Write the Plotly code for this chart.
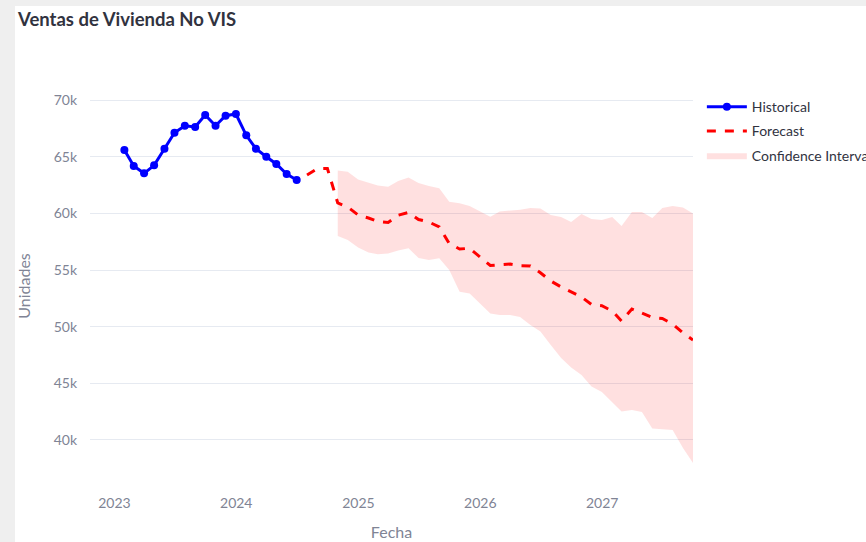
import plotly.graph_objects as go
import pandas as pd

# ---------------- data ----------------
hist_dates = pd.date_range("2023-01-31", "2024-06-30", freq="ME").strftime("%Y-%m-%d").tolist()
hist_values = [65588, 64176, 63532, 64238, 65703, 67115, 67732, 67618, 68676,
               67732, 68615, 68765, 66885, 65703, 64997, 64353, 63471, 62941]

fc_dates = pd.date_range("2024-07-31", "2027-09-30", freq="ME").strftime("%Y-%m-%d").tolist()
fc_values = [63382, 63938, 63956, 60912, 60559, 59853, 59588, 59279, 59191, 59835,
             60074, 59456, 59235, 58794, 57338, 56853, 56915, 56121, 55397, 55459,
             55529, 55379, 55353, 54753, 54029, 53500, 53059, 52618, 51956, 51850,
             51382, 50500, 51559, 51162, 50809, 50721, 50235, 49441, 48824]

ci_dates = fc_dates[3:]
ci_upper = [63779, 63674, 62985, 62676, 62456, 62350, 62853, 63162, 62676, 62412,
            62209, 61026, 60885, 60647, 60206, 59703, 60162, 60224, 60321, 60471,
            60426, 59853, 59676, 59235, 59941, 59500, 59412, 59676, 58882, 60118,
            60118, 59588, 60471, 60647, 60515, 59985]
ci_lower = [58000, 57647, 56985, 56544, 56385, 56456, 56721, 56915, 56059, 55882,
            56032, 55000, 53085, 52926, 52044, 51162, 51029, 51029, 50853, 50147,
            49574, 48382, 47235, 46397, 45735, 44721, 44235, 43353, 42515, 42647,
            42471, 41015, 40944, 40882, 39294, 37971]

title_text = "Ventas de Vivienda No VIS"
x_title = "Fecha"
y_title = "Unidades"

FONT = "Source Sans Pro, Lato, sans-serif"
TXT = "#31333F"
GREY = "#808495"

fig = go.Figure()

fig.add_trace(go.Scatter(
    x=ci_dates + ci_dates[::-1], y=ci_upper + ci_lower[::-1],
    fill="toself", fillcolor="rgba(255,0,0,0.12)", line=dict(width=0, color="rgba(255,0,0,0)"),
    mode="lines", name="Confidence Interval", legendrank=3, legendgroup="c",
    hoverinfo="skip"))

fig.add_trace(go.Scatter(
    x=hist_dates, y=hist_values, mode="lines+markers", name="Historical",
    line=dict(color="blue", width=3), marker=dict(color="blue", size=8),
    legendrank=1, legendgroup="a"))

fig.add_trace(go.Scatter(
    x=fc_dates, y=fc_values, mode="lines", name="Forecast",
    line=dict(color="red", width=3, dash="dash"),
    legendrank=2, legendgroup="b"))

L, R, T, B = 90, 173, 92, 62
W, H = 866, 542
pw, ph = W - L - R, H - T - B

def px2paper_x(px):
    return (px - L) / pw

def px2paper_y(py):
    return (H - B - py) / ph

fig.add_shape(type="rect", xref="paper", yref="paper", layer="below",
              x0=px2paper_x(15), x1=px2paper_x(W + 5),
              y0=px2paper_y(H + 5), y1=px2paper_y(6),
              fillcolor="white", line=dict(width=0))

fig.update_layout(
    width=W, height=H,
    margin=dict(l=L, r=R, t=T, b=B, autoexpand=False),
    paper_bgcolor="#efefef", plot_bgcolor="white",
    font=dict(family=FONT, size=14, color=TXT),
    title=dict(text=title_text, x=18 / W, xref="container", xanchor="left",
               y=1 - 20 / H, yref="container", yanchor="middle",
               font=dict(family=FONT, size=18.5, color=TXT, weight="bold")),
    legend=dict(font=dict(size=14, color=TXT), tracegroupgap=3, itemwidth=40,
                bgcolor="rgba(0,0,0,0)",
                x=1.0147, y=1.002, xanchor="left", yanchor="top"),
    showlegend=True,
)

fig.update_xaxes(title=dict(text=x_title, font=dict(size=16, color=GREY), standoff=16),
                 tickfont=dict(size=14, color=GREY), showgrid=False, zeroline=False,
                 range=["2022-10-20", "2027-09-30"], automargin=False,
                 dtick="M12", tickformat="%Y", showline=False, ticklabelstandoff=13)
fig.update_yaxes(title=dict(text=y_title, font=dict(size=16, color=GREY), standoff=19),
                 tickfont=dict(size=14, color=GREY), gridcolor="#e6eaf1", zeroline=False,
                 range=[36470, 70706], automargin=False,
                 dtick=5000, showline=False, ticklabelstandoff=12)

fig.write_html(
    "out.html",
    config={"displayModeBar": False},
    post_script="document.body.style.margin='0';document.body.style.background='#efefef';",
)
